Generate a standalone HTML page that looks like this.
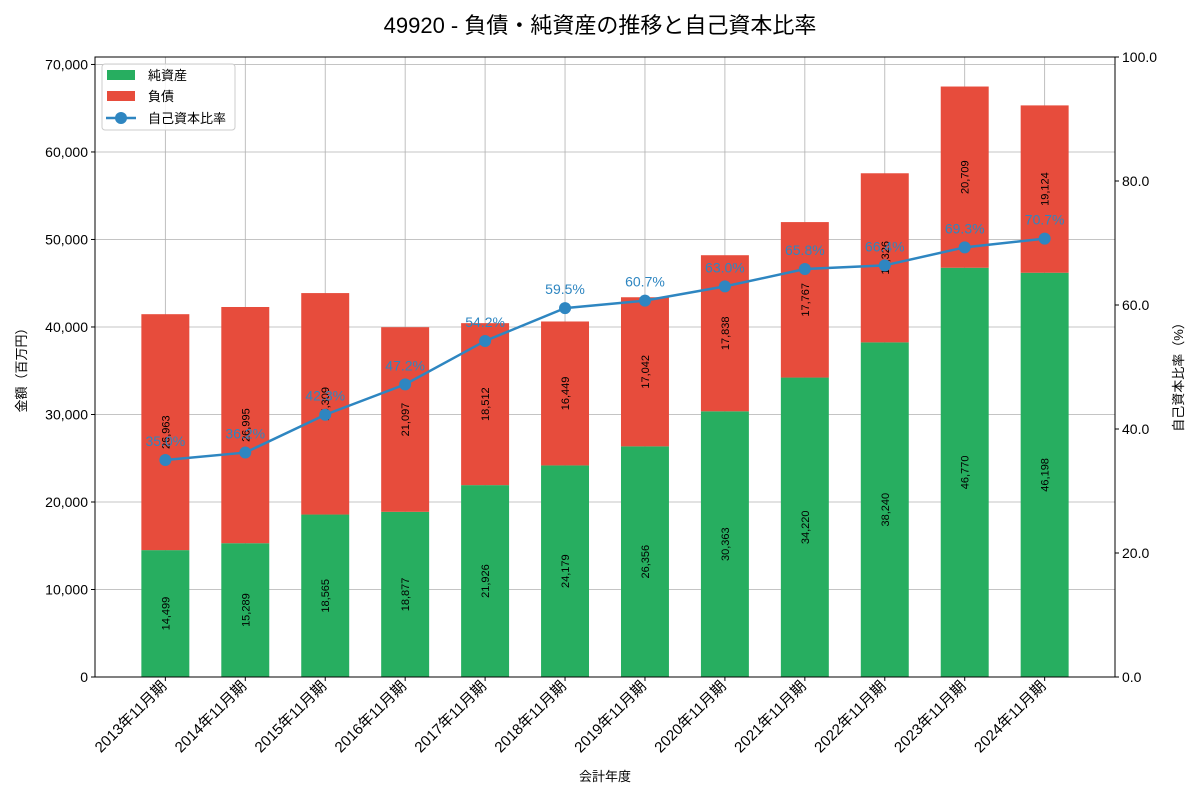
<!DOCTYPE html>
<html><head><meta charset="utf-8"><style>
body{margin:0;background:#fff;}
svg text{font-family:"Liberation Sans","Noto Sans CJK JP",sans-serif;}
</style></head><body>
<svg id="chart" width="1200" height="800" xmlns="http://www.w3.org/2000/svg"></svg>
<script>
const categories=["2013年11月期","2014年11月期","2015年11月期","2016年11月期","2017年11月期","2018年11月期","2019年11月期","2020年11月期","2021年11月期","2022年11月期","2023年11月期","2024年11月期"];
const equity=[14499,15289,18565,18877,21926,24179,26356,30363,34220,38240,46770,46198];
const debt=[26963,26995,25309,21097,18512,16449,17042,17838,17767,19326,20709,19124];
const ratio=[35.0,36.2,42.3,47.2,54.2,59.5,60.7,63.0,65.8,66.4,69.3,70.7];
const leftTicks=[0,10000,20000,30000,40000,50000,60000,70000];
const rightTicks=[0,20,40,60,80,100];

const NS="http://www.w3.org/2000/svg";
const svg=document.getElementById('chart');
const L=95,R=1115,T=57,B=677;
const n=categories.length;
const xmin=-0.88,xmax=n-1+0.88;
const totals=equity.map((e,i)=>e+debt[i]);
const ymax=Math.max(...totals)*1.05;
const X=i=>L+(i-xmin)/(xmax-xmin)*(R-L);
const Y=v=>B-v/ymax*(B-T);
const Y2=v=>B-v/100*(B-T);
const bw=0.6*(R-L)/(xmax-xmin);
function el(tag,attrs,parent){const e=document.createElementNS(NS,tag);for(const k in attrs)e.setAttribute(k,attrs[k]);(parent||svg).appendChild(e);return e;}
const fmt=v=>v.toLocaleString('en-US');

const grid=el('g',{});


leftTicks.forEach(t=>el('line',{x1:L,x2:R,y1:Y(t),y2:Y(t),stroke:'#b0b0b0','stroke-width':0.8},grid));
categories.forEach((c,i)=>el('line',{x1:X(i),x2:X(i),y1:T,y2:B,stroke:'#b0b0b0','stroke-width':0.8},grid));

categories.forEach((c,i)=>{
  const g=el('g',{});
  
  
  const r1=el('rect',{x:X(i)-bw/2,y:Y(equity[i]),width:bw,height:Y(0)-Y(equity[i]),fill:'#27ae60'},g);
  
  
  const r2=el('rect',{x:X(i)-bw/2,y:Y(totals[i]),width:bw,height:Y(equity[i])-Y(totals[i]),fill:'#e74c3c'},g);
  
  
  const ye=(Y(0)+Y(equity[i]))/2, yd=(Y(equity[i])+Y(totals[i]))/2;
  const t1=el('text',{x:X(i)+4,y:ye,'font-size':11,'text-anchor':'middle',transform:`rotate(-90 ${X(i)+4} ${ye})`},g);
  t1.textContent=fmt(equity[i]);
  
  
  const t2=el('text',{x:X(i)+4,y:yd,'font-size':11,'text-anchor':'middle',transform:`rotate(-90 ${X(i)+4} ${yd})`},g);
  t2.textContent=fmt(debt[i]);
  
  
});

const pts=ratio.map((v,i)=>X(i)+','+Y2(v)).join(' ');
const pl=el('polyline',{points:pts,fill:'none',stroke:'#2e86c1','stroke-width':2.5});


ratio.forEach((v,i)=>{
  const c=el('circle',{cx:X(i),cy:Y2(v),r:6,fill:'#2e86c1'});
  
  
  const t=el('text',{x:X(i),y:Y2(v)-14,'font-size':14,fill:'#2e86c1','text-anchor':'middle'});
  t.textContent=v.toFixed(1)+'%';
  
  
});

const fr=el('rect',{x:L,y:T,width:R-L,height:B-T,fill:'none',stroke:'#000','stroke-width':1});



leftTicks.forEach(t=>{
  el('line',{x1:L-4,x2:L,y1:Y(t),y2:Y(t),stroke:'#000'});
  const tx=el('text',{x:L-7,y:Y(t)+5,'font-size':14,'text-anchor':'end'});
  tx.textContent=fmt(t);
  
  
});
rightTicks.forEach(t=>{
  el('line',{x1:R,x2:R+4,y1:Y2(t),y2:Y2(t),stroke:'#000'});
  const tx=el('text',{x:R+7,y:Y2(t)+5,'font-size':14});
  tx.textContent=t.toFixed(1);
  
  
});
categories.forEach((c,i)=>{
  el('line',{x1:X(i),x2:X(i),y1:B,y2:B+4,stroke:'#000'});
  const ax=X(i)+2, ay=B+10;
  const tx=el('text',{x:ax,y:ay,'font-size':15,'text-anchor':'end',transform:`rotate(-45 ${ax} ${ay})`});
  tx.textContent=c;
  
  
});

const ti=el('text',{x:600,y:33,'font-size':22,'text-anchor':'middle'});
ti.textContent='49920 - 負債・純資産の推移と自己資本比率';


const xt=el('text',{x:605,y:781,'font-size':13,'text-anchor':'middle'});
xt.textContent='会計年度';


const yt=el('text',{x:26,y:367,'font-size':13,'text-anchor':'middle',transform:'rotate(-90 26 367)'});
yt.textContent='金額（百万円）';


const y2t=el('text',{x:1183,y:374,'font-size':13,'text-anchor':'middle',transform:'rotate(-90 1183 374)'});
y2t.textContent='自己資本比率（%）';



const lg=el('g',{});


el('rect',{x:102,y:64,width:133,height:66,rx:3,fill:'#fff','fill-opacity':0.85,stroke:'#ccc'},lg);
el('rect',{x:107,y:70,width:28,height:10,fill:'#27ae60'},lg);
el('rect',{x:107,y:91,width:28,height:10,fill:'#e74c3c'},lg);
el('line',{x1:106,x2:136,y1:118,y2:118,stroke:'#2e86c1','stroke-width':2.5},lg);
el('circle',{cx:121,cy:118,r:6,fill:'#2e86c1'},lg);
[['純資産',80],['負債',101],['自己資本比率',123]].forEach(([s,y])=>{
  const t=el('text',{x:148,y:y,'font-size':13},lg);
  t.textContent=s;
  
  
});
</script>
</body></html>
